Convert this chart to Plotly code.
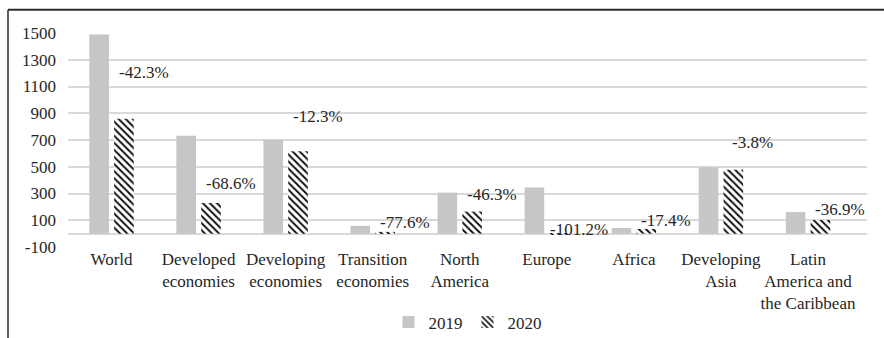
import plotly.graph_objects as go

# FDI flows by economy group, 2019 vs 2020 (billions of dollars)
categories = [
    "World",
    "Developed<br>economies",
    "Developing<br>economies",
    "Transition<br>economies",
    "North<br>America",
    "Europe",
    "Africa",
    "Developing<br>Asia",
    "Latin<br>America and<br>the Caribbean",
]
fdi_2019 = [1489, 731, 702, 58, 307, 344, 42, 497, 161]
fdi_2020 = [859, 229, 616, 13, 165, -4, 35, 478, 102]
growth_labels = ["-42.3%", "-68.6%", "-12.3%", "-77.6%", "-46.3%",
                 "-101.2%", "-17.4%", "-3.8%", "-36.9%"]

y_ticks = [-100, 100, 300, 500, 700, 900, 1100, 1300, 1500]

FONT = "Liberation Serif"
TEXT = "#262626"
FS = 17

fig = go.Figure()
fig.add_trace(go.Bar(
    name="2019", x=categories, y=fdi_2019,
    marker=dict(color="#c6c6c8", line=dict(width=0)),
))
fig.add_trace(go.Bar(
    name="2020", x=categories, y=fdi_2020,
    marker=dict(
        color="white", line=dict(width=0),
        pattern=dict(shape="\\", fgcolor="#111111", bgcolor="white",
                     size=5, solidity=0.4, fillmode="replace"),
    ),
))

# growth-rate labels sit above and to the right of each 2020 bar
label_heights = [1202, 377, 872, 85, 295, 32, 100, 684, 182]
for cat, txt, h in zip(categories, growth_labels, label_heights):
    fig.add_annotation(
        x=cat, y=h, text=txt, showarrow=False, xshift=32,
        xanchor="center", yanchor="middle",
        font=dict(family=FONT, size=FS, color=TEXT),
    )

# outer frame around the chart area
fig.add_shape(type="line", xref="paper", yref="paper",
              x0=-0.0751, x1=1.2, y0=1.109, y1=1.109,
              line=dict(color="#2b2b2b", width=2))
fig.add_shape(type="line", xref="paper", yref="paper",
              x0=-0.0751, x1=-0.0751, y0=-1.0, y1=1.109,
              line=dict(color="#2b2b2b", width=1.5))

fig.update_layout(
    width=884, height=338,
    margin=dict(l=68, r=17, t=33, b=91, autoexpand=False),
    paper_bgcolor="white", plot_bgcolor="white",
    barmode="group", bargap=0.43, bargroupgap=0.21,
    font=dict(family=FONT, size=FS, color=TEXT),
    showlegend=True,
    legend=dict(orientation="h", x=0.5, xanchor="center",
                y=-0.353, yanchor="middle",
                font=dict(family=FONT, size=FS, color=TEXT),
                itemwidth=30, tracegroupgap=0),
    xaxis=dict(showgrid=False, showline=False, ticks="", automargin=False,
               tickangle=0, ticklabelstandoff=0,
               tickfont=dict(family=FONT, size=FS, color=TEXT)),
    yaxis=dict(range=[-100, 1500], tickmode="array", tickvals=y_ticks,
               ticktext=[str(v) for v in y_ticks], automargin=False,
               showgrid=True, gridcolor="#d9d9d9", gridwidth=1.5,
               zeroline=True, zerolinecolor="#d9d9d9", zerolinewidth=1.5,
               showline=False, ticks="", ticklabelstandoff=11,
               tickfont=dict(family=FONT, size=FS, color=TEXT)),
)

fig.write_html("out.html")
